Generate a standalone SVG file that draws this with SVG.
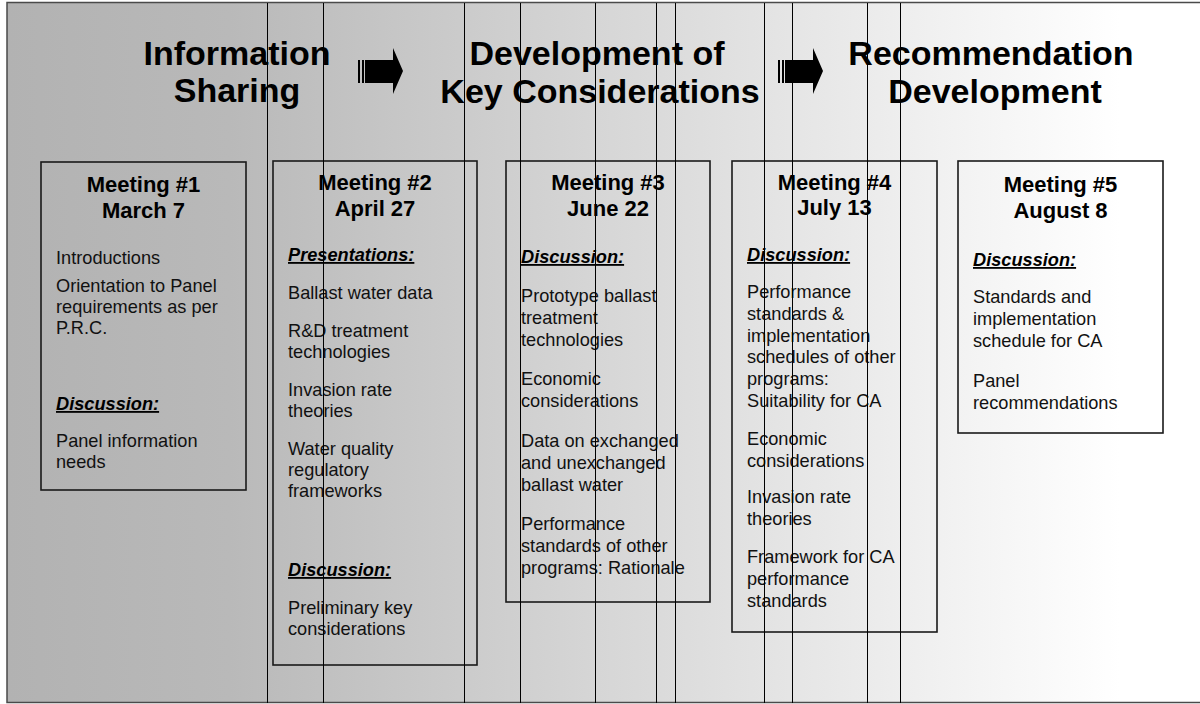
<svg xmlns="http://www.w3.org/2000/svg" width="1200" height="704" viewBox="0 0 1200 704">
<defs>
<linearGradient id="bg" x1="7" y1="0" x2="1120" y2="0" gradientUnits="userSpaceOnUse">
<stop offset="0" stop-color="#b2b2b2"/>
<stop offset="0.2" stop-color="#b9b9b9"/>
<stop offset="1" stop-color="#ffffff"/>
</linearGradient>
<style>
.title{font-family:"Liberation Sans",Arial,sans-serif;font-weight:bold;font-size:34px;fill:#000;text-anchor:middle}
.mt{font-family:"Liberation Sans",Arial,sans-serif;font-weight:bold;font-size:22px;fill:#000;text-anchor:middle}
.b{font-family:"Liberation Sans",Arial,sans-serif;font-size:18.2px;fill:#111}
.h{font-family:"Liberation Sans",Arial,sans-serif;font-size:18.2px;font-weight:bold;font-style:italic;text-decoration:underline;fill:#000}
.box{fill:none;stroke:#1a1a1a;stroke-width:1.6}
.vl{stroke:#000;stroke-width:1}
.arr{fill:#000}
</style>
</defs>
<rect x="0" y="0" width="1200" height="704" fill="#ffffff"/>
<rect x="7" y="2.5" width="1200" height="700" fill="url(#bg)" stroke="#4a4a4a" stroke-width="1.5"/>

<g id="titles">
<text class="title" x="237" y="65">Information</text>
<text class="title" x="237" y="102">Sharing</text>
<text class="title" x="597" y="65">Development of</text>
<text class="title" x="600" y="103">Key Considerations</text>
<text class="title" x="991" y="65">Recommendation</text>
<text class="title" x="995" y="103">Development</text>
</g>

<g id="connectors">
<g id="arrow1">
<rect class="arr" x="358" y="60" width="2" height="23"/>
<rect class="arr" x="362" y="60" width="2" height="23"/>
<polygon class="arr" points="365,60 393,60 393,48 403,71 393,94 393,83 365,83"/>
</g>
<g id="arrow2">
<rect class="arr" x="778" y="60" width="2" height="23"/>
<rect class="arr" x="782" y="60" width="2" height="23"/>
<polygon class="arr" points="785,60 813,60 813,48 823,71 813,94 813,83 785,83"/>
</g>
</g>

<g id="meeting1">
<rect class="box" x="41" y="162" width="205" height="328"/>
<text class="mt" x="143.5" y="192">Meeting #1</text>
<text class="mt" x="143.5" y="218">March 7</text>
<text class="b" x="56" y="264">Introductions</text>
<text class="b" x="56" y="292">Orientation to Panel</text>
<text class="b" x="56" y="313">requirements as per</text>
<text class="b" x="56" y="334">P.R.C.</text>
<text class="h" x="56" y="410">Discussion:</text>
<text class="b" x="56" y="447">Panel information</text>
<text class="b" x="56" y="468">needs</text>
</g>

<g id="meeting2">
<rect class="box" x="273" y="161" width="204" height="504"/>
<text class="mt" x="375" y="190">Meeting #2</text>
<text class="mt" x="375" y="216">April 27</text>
<text class="h" x="288" y="261">Presentations:</text>
<text class="b" x="288" y="299">Ballast water data</text>
<text class="b" x="288" y="337">R&amp;D treatment</text>
<text class="b" x="288" y="358">technologies</text>
<text class="b" x="288" y="396">Invasion rate</text>
<text class="b" x="288" y="417">theories</text>
<text class="b" x="288" y="455">Water quality</text>
<text class="b" x="288" y="476">regulatory</text>
<text class="b" x="288" y="497">frameworks</text>
<text class="h" x="288" y="576">Discussion:</text>
<text class="b" x="288" y="614">Preliminary key</text>
<text class="b" x="288" y="635">considerations</text>
</g>

<g id="meeting3">
<rect class="box" x="506" y="161" width="204" height="441"/>
<text class="mt" x="608" y="190">Meeting #3</text>
<text class="mt" x="608" y="216">June 22</text>
<text class="h" x="521" y="263">Discussion:</text>
<text class="b" x="521" y="302">Prototype ballast</text>
<text class="b" x="521" y="324">treatment</text>
<text class="b" x="521" y="346">technologies</text>
<text class="b" x="521" y="385">Economic</text>
<text class="b" x="521" y="407">considerations</text>
<text class="b" x="521" y="447">Data on exchanged</text>
<text class="b" x="521" y="469">and unexchanged</text>
<text class="b" x="521" y="491">ballast water</text>
<text class="b" x="521" y="530">Performance</text>
<text class="b" x="521" y="552">standards of other</text>
<text class="b" x="521" y="574">programs: Rationale</text>
</g>

<g id="meeting4">
<rect class="box" x="732" y="161" width="205" height="471"/>
<text class="mt" x="834.5" y="190">Meeting #4</text>
<text class="mt" x="834.5" y="215">July 13</text>
<text class="h" x="747" y="261">Discussion:</text>
<text class="b" x="747" y="298">Performance</text>
<text class="b" x="747" y="320">standards &amp;</text>
<text class="b" x="747" y="342">implementation</text>
<text class="b" x="747" y="363">schedules of other</text>
<text class="b" x="747" y="385">programs:</text>
<text class="b" x="747" y="407">Suitability for CA</text>
<text class="b" x="747" y="445">Economic</text>
<text class="b" x="747" y="467">considerations</text>
<text class="b" x="747" y="503">Invasion rate</text>
<text class="b" x="747" y="525">theories</text>
<text class="b" x="747" y="563">Framework for CA</text>
<text class="b" x="747" y="585">performance</text>
<text class="b" x="747" y="607">standards</text>
</g>

<g id="meeting5">
<rect class="box" x="958" y="161" width="205" height="272"/>
<text class="mt" x="1060.5" y="192">Meeting #5</text>
<text class="mt" x="1060.5" y="218">August 8</text>
<text class="h" x="973" y="266">Discussion:</text>
<text class="b" x="973" y="303">Standards and</text>
<text class="b" x="973" y="325">implementation</text>
<text class="b" x="973" y="347">schedule for CA</text>
<text class="b" x="973" y="387">Panel</text>
<text class="b" x="973" y="409">recommendations</text>
</g>

<g id="vertical-lines">
<line class="vl" x1="267.5" y1="3" x2="267.5" y2="703"/>
<line class="vl" x1="323.5" y1="3" x2="323.5" y2="703"/>
<line class="vl" x1="464.5" y1="3" x2="464.5" y2="703"/>
<line class="vl" x1="520.5" y1="3" x2="520.5" y2="703"/>
<line class="vl" x1="595.5" y1="3" x2="595.5" y2="703"/>
<line class="vl" x1="656.5" y1="3" x2="656.5" y2="703"/>
<line class="vl" x1="675.5" y1="3" x2="675.5" y2="703" stroke="#333"/>
<line class="vl" x1="764.5" y1="3" x2="764.5" y2="703"/>
<line class="vl" x1="792.5" y1="3" x2="792.5" y2="703"/>
<line class="vl" x1="867.5" y1="3" x2="867.5" y2="703"/>
<line class="vl" x1="900.5" y1="3" x2="900.5" y2="703"/>
</g>
</svg>
